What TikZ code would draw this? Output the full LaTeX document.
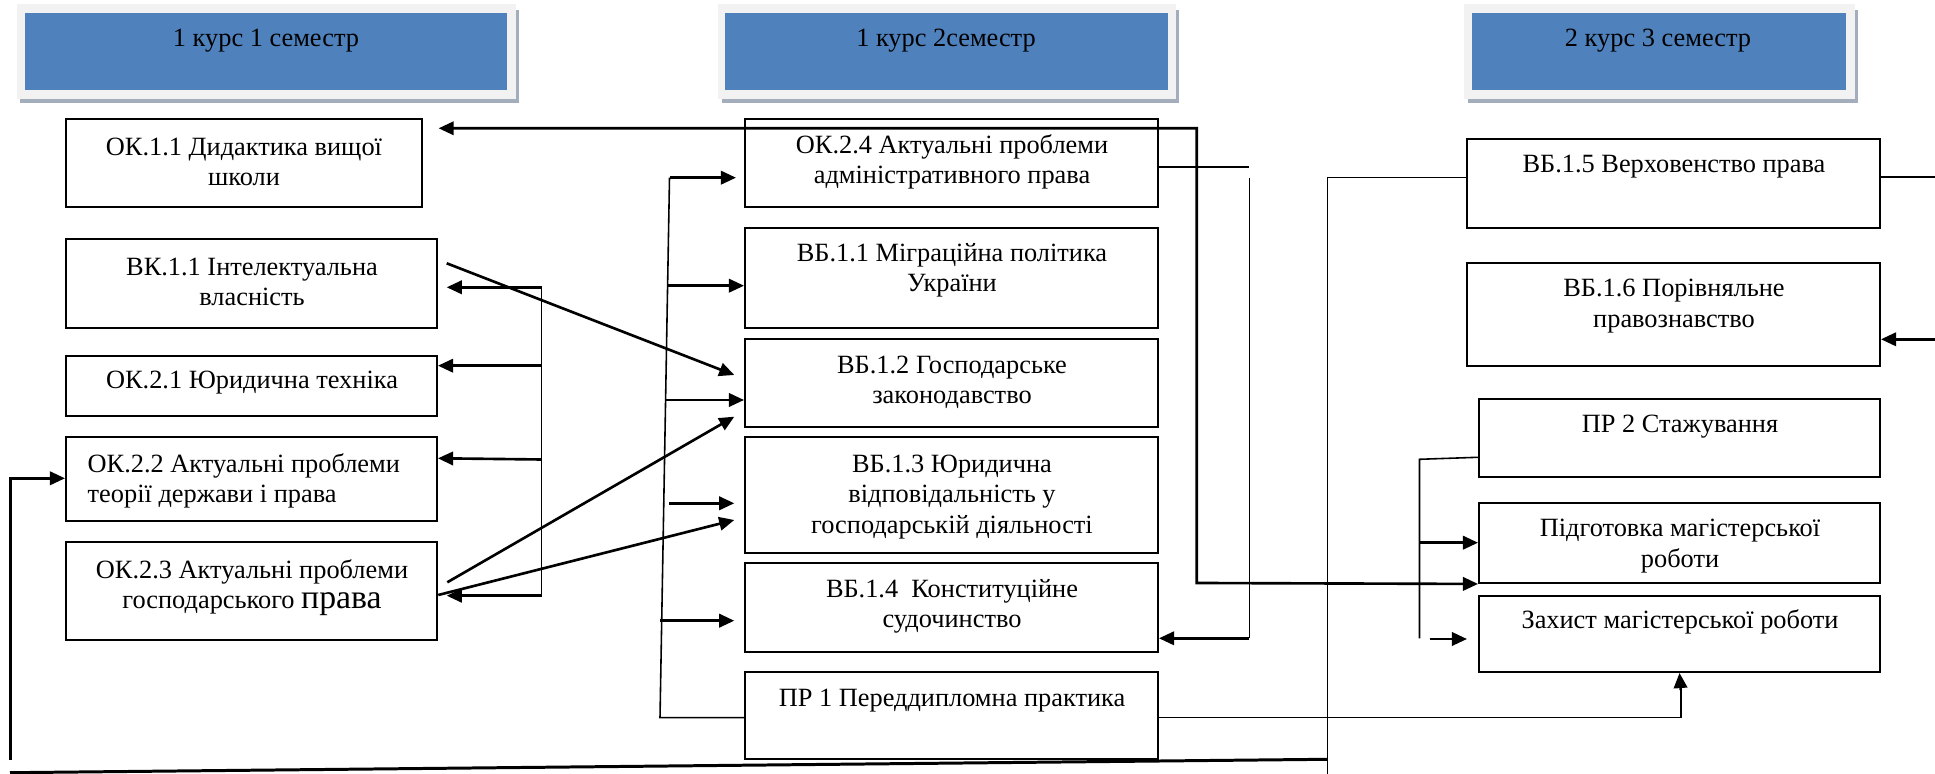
\documentclass[tikz,border=0pt]{standalone}
\usepackage{fontspec}
\setmainfont{Liberation Serif}
\usetikzlibrary{arrows.meta,fit,calc}
\definecolor{hblue}{HTML}{4F81BD}
\definecolor{hframe}{HTML}{F2F2F2}
\definecolor{hshadow}{HTML}{A3ADBC}
\begin{document}
\begin{tikzpicture}[x=0.1mm,y=-0.1mm,
  box/.style={draw, line width=0.55pt, inner sep=0pt},
  txt/.style={font=\fontsize{7.5}{8.6}\selectfont, align=center, inner sep=0pt},
  conn/.style={line width=0.45pt},
  bold/.style={line width=0.85pt},
  arr/.style={line width=0.75pt, -{Triangle[length=4.3pt,width=3.8pt]}},
  darr/.style={line width=0.75pt, {Triangle[length=4.3pt,width=3.8pt]}-{Triangle[length=4.3pt,width=3.8pt]}},
  hdr/.style={fill=hblue, draw=none, inner sep=0pt},
]
\useasboundingbox (0,0) rectangle (1935,774);
% ---------- headers
\fill[hshadow] (20,10) rectangle (519,103);
\fill[hframe] (16.6,4) rectangle (516,99.3);
\node[hdr, fit={(25,12.7) (507,90)}] (h1) {};
\node[txt] (h1t) at (266,41) {1 курс 1 семестр};
\fill[hshadow] (722,10) rectangle (1179,103);
\fill[hframe] (718,4) rectangle (1176,99.3);
\node[hdr, fit={(725,12.7) (1168,90)}] (h2) {};
\node[txt] (h2t) at (946,41) {1 курс 2семестр};
\fill[hshadow] (1468,10) rectangle (1858,103);
\fill[hframe] (1464,4) rectangle (1855,99.3);
\node[hdr, fit={(1472,12.7) (1846,90)}] (h3) {};
\node[txt] (h3t) at (1658,41) {2 курс 3 семестр};
% ---------- column 1
\node[box, fit={(66,119) (422,207)}] (ok11) {};
\node[txt] (ok11t) at (244,162) {ОК.1.1 Дидактика вищої\\школи};
\node[box, fit={(66,239) (437,328)}] (vk11) {};
\node[txt] (vk11t) at (252,282) {ВК.1.1 Інтелектуальна\\власність};
\node[box, fit={(66,356) (437,416)}] (ok21) {};
\node[txt] (ok21t) at (252,383) {ОК.2.1 Юридична техніка};
\node[box, fit={(66,437) (437,521)}] (ok22) {};
\node[txt, anchor=west, align=left] (ok22t) at (87,481) {ОК.2.2 Актуальні проблеми\\теорії держави і права};
\node[box, fit={(66,542) (437,640)}] (ok23) {};
\node[txt] (ok23t) at (252,588) {ОК.2.3 Актуальні проблеми\\господарського {\fontsize{9.6}{8.6}\selectfont права}};
% ---------- column 2
\node[box, fit={(745,119) (1158,207)}] (ok24) {};
\node[txt] (ok24t) at (952,162) {ОК.2.4 Актуальні проблеми\\адміністративного права};
\node[box, fit={(745,228) (1158,328)}] (vb11) {};
\node[txt] (vb11t) at (952,270) {ВБ.1.1 Міграційна політика\\України};
\node[box, fit={(745,339) (1158,427)}] (vb12) {};
\node[txt] (vb12t) at (952,382) {ВБ.1.2 Господарське\\законодавство};
\node[box, fit={(745,437) (1158,553)}] (vb13) {};
\node[txt] (vb13t) at (952,497) {ВБ.1.3 Юридична\\відповідальність у\\господарській діяльності};
\node[box, fit={(745,563) (1158,652)}] (vb14) {};
\node[txt] (vb14t) at (952,606) {ВБ.1.4~~Конституційне\\судочинство};
\node[box, fit={(745,672) (1158,759)}] (pr1) {};
\node[txt] (pr1t) at (952,701) {ПР 1 Переддипломна практика};
% ---------- column 3
\node[box, fit={(1467,139) (1880,228)}] (vb15) {};
\node[txt] (vb15t) at (1674,167) {ВБ.1.5 Верховенство права};
\node[box, fit={(1467,263) (1880,366)}] (vb16) {};
\node[txt] (vb16t) at (1674,306) {ВБ.1.6 Порівняльне\\правознавство};
\node[box, fit={(1479,399) (1880,477)}] (pr2) {};
\node[txt] (pr2t) at (1680,427) {ПР 2 Стажування};
\node[box, fit={(1479,503) (1880,583)}] (pidg) {};
\node[txt] (pidgt) at (1680,546) {Підготовка магістерської\\роботи};
\node[box, fit={(1479,596) (1880,672)}] (zakh) {};
\node[txt] (zakht) at (1680,622) {Захист магістерської роботи};
% ---------- connectors
% OK.1.1 <-> Pidgotovka
\coordinate (e1) at (438.6,128.3);
\draw[darr] (e1) -| (1196.7,583) -- (pidg.south west);
% OK.2.4 stub and line to VB.1.4
\draw[conn] (ok24.east |- 0,167) -- (1249.3,167);
\draw[conn] (1249.3,177.7) -- (1249.3,638.3);
\draw[arr] (1249.3,638.3) -- (vb14.east |- 0,638.3);
% VB.1.5 left line and bottom return
\coordinate (bR) at (1327.5,774);
\draw[conn] (vb15.west |- 0,177.7) -| (bR);
\coordinate (bL) at (10,772.7);
\draw[bold] (bL) -- (1327.5,759.3);
\coordinate (lL) at (10.4,760);
\draw[arr] (lL) |- (ok22.west |- 0,478.3);
% VB.1.5 right, VB.1.6 arrow
\coordinate (rE1) at (1935,177.3);
\draw[conn] (vb15.east |- rE1) -- (rE1);
\coordinate (rE2) at (1935,339.3);
\draw[arr] (rE2) -- (vb16.east |- rE2);
% PR1 -> Zakhyst
\draw[conn] (pr1.east |- 0,717.7) -| (1680.7,690);
\draw[arr] (1680.7,690) -- (zakh.south);
% PR1 left vertical and arrows
\draw[conn] (pr1.west |- 0,717.7) -- (660,717.7) -- (669.5,177.7);
\coordinate (t24) at (736,177.7);
\draw[arr] (669.5,177.7) -- (t24);
\draw[arr] (667.6,285.7) -- (vb11.west |- 0,285.7);
\draw[arr] (665.6,400) -- (vb12.west |- 0,400);
\coordinate (t13) at (734.3,503.3);
\draw[arr] (669,503.3) -- (t13);
\coordinate (t14) at (734.3,620.7);
\draw[arr] (660,620.7) -- (t14);
% left bracket
\draw[conn] (541.7,287.3) -- (541.7,595.7);
\coordinate (tvk) at (446.7,287.3);
\draw[arr] (541.7,287.3) -- (tvk);
\draw[arr] (541.7,365.7) -- (ok21.east |- 0,365.7);
\draw[arr] (541.7,459.5) -- (ok22.east |- 0,458.3);
\coordinate (tok23) at (446.7,595.7);
\draw[arr] (541.7,595.7) -- (tok23);
% diagonals
\coordinate (d1s) at (446.7,263.3);
\coordinate (d1e) at (734.3,375);
\draw[arr] (d1s) -- (d1e);
\coordinate (d2s) at (447.3,582.3);
\coordinate (d2e) at (734.3,416.7);
\draw[arr] (d2s) -- (d2e);
\coordinate (d3s) at (438.3,595);
\coordinate (d3e) at (734.3,520);
\draw[arr] (d3s) -- (d3e);
% PR2
\draw[conn] (pr2.west |- 0,457.3) -- (1419.5,459.3) -- (1419.5,638.3);
\draw[arr] (1419.5,542.7) -- (pidg.west |- 0,542.7);
\coordinate (zs) at (1429.6,639);
\coordinate (ze) at (1467,639);
\draw[arr] (zs) -- (ze);
\end{tikzpicture}
\end{document}
